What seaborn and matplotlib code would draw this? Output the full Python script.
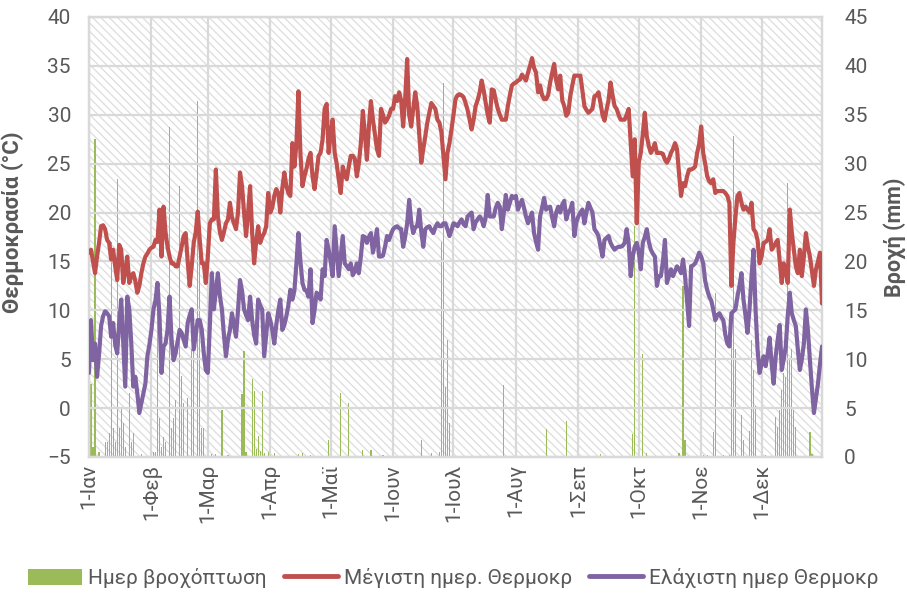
import numpy as np
import pandas as pd
import matplotlib
matplotlib.use("Agg")
import matplotlib.pyplot as plt
from matplotlib.patches import Rectangle, Patch
from matplotlib.lines import Line2D
import seaborn as sns

# ---------------- data ----------------
month_labels = ['1-Ιαν', '1-Φεβ', '1-Μαρ', '1-Απρ', '1-Μαϊ', '1-Ιουν',
                '1-Ιουλ', '1-Αυγ', '1-Σεπ', '1-Οκτ', '1-Νοε', '1-Δεκ']
month_days = [31, 28, 31, 30, 31, 30, 31, 31, 30, 31, 30, 31]

# daily maximum temperature (°C), one line per month
tmax = [
    15.9, 16.2, 15.0, 13.8, 15.5, 16.9, 18.6, 18.7, 18.3, 17.2, 16.9, 15.2, 16.2, 14.5, 13.1, 16.7, 16.2, 12.8, 14.0, 15.5, 12.8, 13.5, 13.8, 13.0, 11.8, 12.5, 13.8, 14.8, 15.5, 15.8, 16.2,
    16.4, 16.5, 17.2, 17.0, 20.3, 15.5, 20.6, 18.0, 16.5, 15.5, 14.8, 14.8, 14.5, 14.5, 15.5, 16.5, 17.6, 17.9, 15.0, 12.5, 14.5, 16.9, 18.0, 20.1, 17.2, 14.8, 14.8, 12.8,
    15.5, 18.9, 19.3, 19.3, 24.4, 19.6, 18.0, 17.2, 18.0, 18.9, 19.3, 21.0, 19.5, 18.9, 18.3, 20.0, 24.1, 22.7, 20.0, 17.6, 20.0, 22.7, 18.0, 14.8, 17.0, 18.6, 16.9, 17.5, 17.9, 18.6, 22.0,
    20.0, 20.5, 21.7, 22.4, 22.0, 20.0, 22.5, 24.1, 22.7, 22.0, 21.7, 27.1, 24.7, 27.0, 32.4, 26.0, 22.7, 23.7, 24.5, 25.5, 26.1, 23.7, 22.4, 24.0, 25.8, 26.1, 27.5, 30.6, 31.1, 26.1,
    28.0, 29.5, 26.1, 25.0, 23.4, 22.0, 24.7, 24.0, 23.4, 24.7, 25.8, 25.8, 25.5, 23.7, 25.0, 27.1, 30.4, 28.0, 25.4, 28.8, 31.4, 29.5, 28.0, 26.5, 25.8, 30.6, 30.0, 29.2, 29.5, 29.9, 30.6,
    30.6, 31.9, 31.4, 32.3, 31.5, 28.8, 31.6, 35.7, 30.0, 28.8, 30.6, 32.3, 30.9, 28.0, 25.1, 26.5, 27.8, 29.2, 30.2, 31.2, 30.9, 30.6, 29.5, 29.2, 28.2, 25.8, 23.4, 26.1, 27.1, 28.5,
    30.0, 31.6, 32.0, 32.1, 32.0, 31.8, 31.2, 30.5, 29.5, 28.5, 29.5, 30.9, 31.5, 32.3, 33.5, 32.5, 31.2, 30.0, 29.2, 32.6, 32.5, 31.5, 30.6, 30.0, 29.5, 29.5, 29.5, 30.9, 32.0, 33.0, 33.2,
    33.3, 33.5, 33.6, 34.1, 33.8, 33.5, 34.3, 35.0, 35.8, 34.8, 34.3, 32.3, 33.0, 32.0, 31.6, 31.6, 32.0, 33.3, 34.3, 35.2, 33.5, 32.6, 34.0, 31.5, 30.9, 29.9, 30.2, 31.9, 33.0, 34.0, 34.0,
    34.0, 34.0, 32.5, 30.9, 30.5, 30.2, 30.4, 30.6, 31.9, 32.0, 32.3, 31.2, 30.0, 29.4, 30.5, 31.5, 33.3, 32.0, 30.9, 30.6, 30.0, 29.5, 29.5, 29.5, 30.0, 30.6, 27.1, 23.7, 27.5, 18.9,
    25.1, 26.1, 28.0, 30.2, 27.8, 26.8, 26.1, 26.5, 27.1, 26.1, 26.1, 26.1, 26.0, 25.4, 25.1, 25.5, 26.1, 26.5, 27.1, 26.5, 24.0, 21.7, 23.0, 22.7, 23.7, 24.4, 24.4, 24.5, 24.7, 26.1, 27.0,
    28.8, 26.1, 25.0, 23.7, 23.2, 23.0, 23.4, 22.0, 22.2, 22.2, 22.2, 22.2, 22.0, 21.7, 21.0, 12.5, 16.9, 19.5, 21.7, 22.0, 21.0, 20.3, 20.6, 20.3, 20.0, 21.0, 18.3, 18.0, 17.2, 14.8,
    15.5, 16.9, 17.0, 17.2, 18.3, 16.2, 16.5, 16.9, 17.2, 15.0, 12.8, 14.8, 14.0, 12.8, 20.3, 18.0, 16.2, 14.5, 13.8, 16.2, 13.5, 15.5, 17.9, 16.5, 15.5, 14.0, 12.5, 14.2, 15.0, 15.9, 10.7,
]

# daily minimum temperature (°C)
tmin = [
    3.6, 9.0, 4.9, 6.6, 3.2, 5.5, 8.4, 9.4, 9.9, 9.7, 9.4, 7.3, 8.7, 6.5, 5.6, 8.7, 11.1, 6.6, 2.2, 11.4, 10.1, 6.6, 2.2, 3.2, 1.5, -0.5, 0.5, 1.5, 2.5, 5.3, 6.5,
    8.0, 10.1, 11.0, 12.8, 9.4, 3.6, 6.3, 6.6, 8.0, 11.4, 7.0, 4.9, 5.6, 6.8, 8.0, 7.7, 7.0, 6.3, 8.7, 9.5, 10.1, 6.0, 7.5, 9.0, 9.0, 8.0, 5.6, 3.9,
    3.6, 8.4, 13.8, 10.1, 12.0, 13.8, 11.5, 10.1, 7.5, 5.3, 7.0, 8.0, 9.7, 8.5, 7.3, 10.0, 13.1, 12.0, 10.1, 9.5, 9.0, 11.4, 9.0, 7.5, 6.6, 11.1, 10.5, 10.1, 5.3, 7.5, 9.7,
    9.0, 8.0, 6.6, 8.5, 10.0, 11.1, 8.0, 8.5, 9.4, 10.5, 12.1, 11.1, 12.0, 14.8, 17.9, 15.0, 12.8, 12.1, 12.0, 11.4, 14.2, 8.7, 10.0, 11.8, 11.6, 11.1, 14.2, 13.5, 17.2, 16.2,
    15.0, 13.5, 18.6, 16.0, 13.5, 15.5, 17.6, 14.8, 14.5, 14.2, 14.8, 13.6, 14.0, 14.8, 13.8, 15.5, 17.6, 17.5, 16.9, 17.5, 17.9, 15.9, 17.0, 18.3, 15.5, 15.5, 15.6, 16.5, 17.6, 17.2, 17.8,
    18.3, 18.5, 18.6, 18.4, 18.3, 16.5, 17.5, 18.9, 21.3, 19.0, 17.9, 18.5, 18.6, 20.3, 18.0, 16.5, 18.3, 18.5, 18.6, 18.2, 17.9, 18.5, 18.9, 18.6, 18.6, 18.9, 18.9, 18.3, 17.6, 18.2,
    18.9, 18.8, 18.6, 19.0, 19.3, 18.8, 18.6, 19.6, 19.8, 20.0, 18.3, 19.0, 19.3, 19.6, 19.3, 18.6, 19.5, 21.8, 19.6, 19.6, 19.6, 20.5, 21.0, 20.6, 18.3, 20.0, 21.8, 20.3, 21.0, 21.7, 21.5,
    21.7, 20.3, 20.8, 21.3, 20.5, 19.6, 18.9, 19.5, 20.0, 17.9, 17.0, 16.2, 19.6, 20.5, 21.5, 20.3, 20.5, 20.6, 19.5, 18.6, 20.0, 20.6, 20.0, 20.8, 21.2, 19.3, 20.0, 20.3, 21.0, 17.6, 19.0,
    19.6, 20.0, 20.3, 18.9, 20.0, 21.0, 20.5, 20.0, 18.3, 18.0, 17.6, 16.5, 15.5, 17.2, 17.4, 17.6, 16.9, 16.5, 16.2, 16.4, 16.5, 16.5, 16.6, 16.9, 18.3, 16.9, 13.5, 15.5, 16.5, 16.9,
    16.0, 14.2, 16.9, 17.5, 18.3, 17.0, 16.2, 15.8, 15.5, 12.5, 13.5, 13.5, 15.0, 17.2, 12.8, 13.5, 14.2, 13.5, 14.0, 14.5, 14.2, 13.8, 15.2, 13.5, 11.0, 8.4, 14.5, 14.6, 14.8, 15.3, 15.9,
    15.5, 14.8, 13.0, 12.1, 11.4, 11.0, 10.1, 9.0, 9.5, 9.7, 9.3, 9.0, 7.5, 6.6, 6.3, 9.7, 9.9, 10.1, 11.4, 12.5, 13.8, 11.1, 9.5, 7.7, 10.1, 13.5, 16.2, 10.1, 6.0, 3.6,
    4.5, 5.3, 4.3, 5.5, 7.2, 4.5, 2.5, 5.3, 7.0, 8.5, 3.9, 5.0, 6.3, 9.5, 11.8, 9.7, 9.0, 8.4, 6.0, 3.9, 5.0, 6.6, 10.1, 8.0, 4.9, 2.0, -0.5, 1.0, 2.5, 4.5, 6.3,
]

# daily rainfall (mm)
rain = [
    0, 7.5, 1.0, 32.5, 0, 0.5, 0, 0, 1.5, 1.5, 2.5, 22, 3, 1.5, 28.4, 3, 5, 3.5, 1, 0, 6.5, 1.5, 2.5, 0, 0, 0, 0.3, 0, 0, 0, 0,
    0, 0.5, 0.5, 18, 4, 1, 2, 1.5, 0, 33.7, 3, 4, 5.8, 0, 27.7, 8.3, 5.5, 0, 6, 0, 11, 11, 0, 36.4, 24.6, 3, 3, 0,
    0, 0, 0.3, 0, 0.3, 0, 0, 4.8, 0, 0, 0.2, 0, 0, 0, 0, 0, 0, 6.4, 10.8, 0.5, 0, 0, 8.0, 6.7, 0.8, 2.1, 0.6, 6.7, 0.4, 0, 0.5,
    0, 0, 0.4, 0, 0, 0, 0, 0, 0, 0, 0, 0, 0, 0, 0.3, 0, 0.4, 0, 0, 0, 0.2, 0, 0, 0, 0, 0, 0, 0, 0, 1.7,
    0, 0, 0, 0, 0, 6.5, 0, 0, 0, 5.5, 0, 0, 0, 0, 0, 0, 0.7, 0, 0, 0, 0.7, 0, 0, 0, 0, 0, 0.2, 0, 0, 0, 0,
    0, 0, 0, 0, 0, 0, 0, 0, 0, 0, 0, 0, 0, 0, 1.7, 0, 0, 0, 0, 0.4, 0, 0, 0, 0.5, 22, 38.3, 7.2, 12, 3.5, 0,
    0, 0, 0, 0, 0, 0, 0, 0, 0, 0, 0, 0, 0, 0, 0, 0, 0, 0, 0, 0, 0, 0, 0, 0, 0, 7.4, 0, 0, 0, 0, 0,
    0, 0, 0, 0, 0, 0, 0, 0, 0, 0, 0, 0, 0, 0, 0, 2.9, 0, 0, 0, 0, 0, 0, 0, 0, 0, 3.7, 0, 0, 0, 0, 0,
    0, 0, 0, 0, 0, 0, 0, 0, 0, 0, 0, 0.3, 0, 0, 0, 0, 0, 0, 0, 0, 0, 0, 0, 0, 0, 0, 0, 2.4, 23.6, 0,
    0, 0, 10.5, 0, 0.4, 0, 0, 0, 0, 0, 0, 0, 0, 0, 0, 0, 0, 0, 0, 0, 0.4, 0, 17.5, 1.7, 0, 0, 0, 0, 0, 0, 0,
    0, 0.2, 0, 0.2, 0, 0, 2.6, 16.8, 0, 0, 0, 0.2, 0, 0, 0.2, 12, 32.8, 11, 0, 0, 4.3, 1.7, 0, 0, 2.7, 12, 8.9, 5.2, 0, 0,
    0, 0, 0.2, 0, 0, 0, 0, 4.1, 3.1, 4.8, 6.9, 8.6, 8.2, 28, 9.9, 11, 4.8, 3.1, 0, 0, 0, 0, 0, 0, 2.6, 0.3, 0, 0, 0, 0, 0,
]

legend_labels = ['Ημερ βροχόπτωση', 'Μέγιστη ημερ. Θερμοκρ', 'Ελάχιστη ημερ Θερμοκρ']
ylabel_left = 'Θερμοκρασία (°C)'
ylabel_right = 'Βροχή (mm)'

# ---------------- style ----------------
GREEN = '#9BBB59'
RED = '#C0504D'
PURPLE = '#8064A2'
GRID = '#D9D9D9'
TXT = '#595959'

sns.set_theme(style='white')
plt.rcParams['font.family'] = ['Roboto', 'DejaVu Sans']
plt.rcParams['hatch.linewidth'] = 0.9

days = np.arange(len(tmax))
df = pd.DataFrame({'day': days, 'tmax': tmax, 'tmin': tmin, 'rain': rain})
month_starts = np.concatenate([[0], np.cumsum(month_days)[:-1]])

fig = plt.figure(figsize=(9.07, 5.97), dpi=100)
W, H = 907, 597
ax = fig.add_axes([89 / W, 1 - 457 / H, (822 - 89) / W, (457 - 17) / H])
ax_r = ax.twinx()
ax.set_zorder(ax_r.get_zorder() + 1)
ax.patch.set_visible(False)

# hatched background on rain axis
bg = Rectangle((0, 0), 1, 1, transform=ax_r.transAxes, facecolor='white',
               edgecolor='#DDDDDD', hatch='\\\\\\\\', linewidth=0, zorder=0)
ax_r.add_patch(bg)

# rain bars (thin columns on the secondary axis)
sns.barplot(data=df, x='day', y='rain', native_scale=True, ax=ax_r, color=GREEN,
            width=0.6, errorbar=None, saturation=1, linewidth=0, edgecolor='none',
            antialiased=False, zorder=2)

# temperature lines
sns.lineplot(data=df, x='day', y='tmax', ax=ax, color=RED, linewidth=3.0, zorder=3)
sns.lineplot(data=df, x='day', y='tmin', ax=ax, color=PURPLE, linewidth=3.0, zorder=3)

ax.set_xlim(0, len(tmax) - 1)
ax_r.set_xlim(0, len(tmax) - 1)
ax.set_ylim(-5, 40)
ax_r.set_ylim(0, 45)
ax.set_yticks(np.arange(-5, 41, 5))
ax_r.set_yticks(np.arange(0, 46, 5))
ax.set_xticks(month_starts)
ax.set_xticklabels(month_labels, rotation=90)

ax.set_axisbelow(True)
ax.grid(axis='y', color=GRID, linewidth=1.6)
ax.grid(axis='x', which='major', color=GRID, linewidth=1.6)

for a in (ax, ax_r):
    for s in a.spines.values():
        s.set_color(GRID)
        s.set_linewidth(1.6)

ax.tick_params(axis='y', length=0, pad=13, labelsize=15, labelcolor=TXT)
ax.tick_params(axis='x', length=0, pad=5, labelsize=15, labelcolor=TXT)
ax_r.tick_params(axis='y', length=0, pad=16, labelsize=15, labelcolor=TXT)
ax_r.xaxis.set_visible(False)

ax.set_xlabel('')
ax.set_ylabel(ylabel_left, fontsize=16, fontweight='bold', color=TXT)
ax.yaxis.set_label_coords(-0.088, 0.534)
ax_r.set_ylabel(ylabel_right, fontsize=15.5, fontweight='bold', color=TXT, rotation=90)
ax_r.yaxis.set_label_coords(1.083, 0.5)

handles = [Patch(facecolor=GREEN, edgecolor='none'),
           Line2D([], [], color=RED, linewidth=3.5),
           Line2D([], [], color=PURPLE, linewidth=3.5)]
fig.legend(handles, legend_labels, loc='center', bbox_to_anchor=(0.5, 1 - 578 / H),
           ncol=3, frameon=False, fontsize=15, handlelength=2.6, handleheight=0.8,
           handletextpad=0.3, columnspacing=0.8, labelcolor=TXT)

fig.savefig('out.png', dpi=100)
